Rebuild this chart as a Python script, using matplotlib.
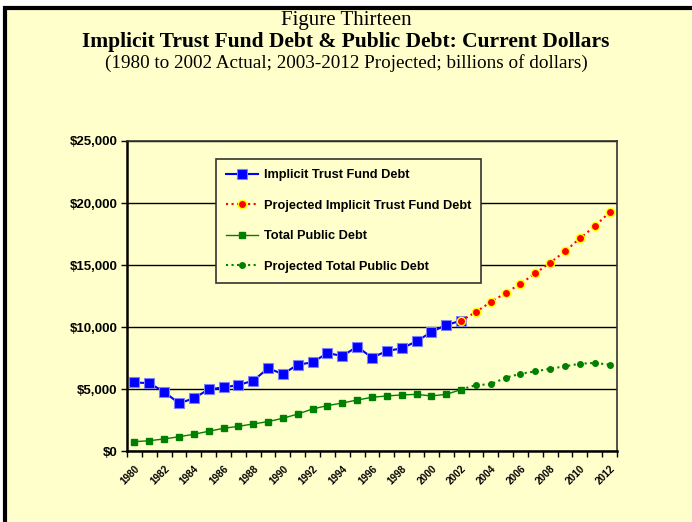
import numpy as np
import matplotlib
matplotlib.use("Agg")
import matplotlib.pyplot as plt
from matplotlib.patches import Rectangle
from matplotlib.ticker import FuncFormatter

# Years on the category axis
years = list(range(1980, 2013))

# Implicit trust fund debt, actual 1980-2002 (billions of dollars)
implicit_actual = [5540, 5460, 4780, 3840, 4250, 4970, 5130, 5320, 5670, 6670,
                   6210, 6960, 7150, 7900, 7660, 8410, 7530, 8060, 8280, 8840,
                   9600, 10160, 10510]
# Implicit trust fund debt, projected 2002-2012
implicit_proj = [10510, 11210, 12020, 12740, 13490, 14330, 15190, 16100,
                 17150, 18120, 19250]

# Total public debt, actual 1980-2002
public_actual = [750, 830, 970, 1150, 1350, 1590, 1830, 1990, 2180, 2370,
                 2640, 2980, 3390, 3660, 3870, 4110, 4330, 4440, 4520, 4570,
                 4440, 4570, 4950]
# Total public debt, projected 2002-2012
public_proj = [4950, 5320, 5380, 5910, 6230, 6420, 6640, 6830, 7040, 7100, 6960]

title_top = "Figure Thirteen"
title_main = "Implicit Trust Fund Debt & Public Debt: Current Dollars"
title_sub = "(1980 to 2002 Actual; 2003-2012 Projected; billions of dollars)"

BG = "#FFFFCC"
W, H = 692, 522

fig = plt.figure(figsize=(W / 100, H / 100), dpi=100, facecolor="white")

# Framed yellow panel behind everything
fig.patches.append(Rectangle((5 / W, -0.05), 1.1, (H - 8) / H + 0.05,
                             transform=fig.transFigure, facecolor=BG,
                             edgecolor="black", linewidth=3, zorder=-10))

fig.text(0.5, 1 - 20 / H, title_top, ha="center", va="center",
         family="Liberation Serif", fontsize=15)
fig.text(0.5, 1 - 42 / H, title_main, ha="center", va="center",
         family="Liberation Serif", fontsize=15.5, fontweight="bold")
fig.text(0.5, 1 - 63 / H, title_sub, ha="center", va="center",
         family="Liberation Serif", fontsize=13.8)

ax = fig.add_axes([127 / W, 71 / H, 490 / W, 310 / H])
ax.set_facecolor(BG)

x = np.arange(len(years))
n_act = len(implicit_actual)
x_act = x[:n_act]
x_proj = x[n_act - 1:]

ax.plot(x_act, implicit_actual, color="#0000FF", linewidth=1.5, marker="s",
        markersize=7.5, markerfacecolor="#0000FF", markeredgecolor="#8080FF",
        markeredgewidth=0.8, label="Implicit Trust Fund Debt", zorder=4)
ax.plot(x_proj, implicit_proj, color="#FF0000", linewidth=1.5, linestyle=":",
        marker="o", markersize=6, markerfacecolor="#FF0000",
        markeredgecolor="#FFFF00", markeredgewidth=1,
        label="Projected Implicit Trust Fund Debt", zorder=5)
ax.plot(x_act, public_actual, color="#008000", linewidth=1, marker="s",
        markersize=4, markerfacecolor="#008000", markeredgecolor="#008000",
        label="Total Public Debt", zorder=4)
ax.plot(x_proj, public_proj, color="#008000", linewidth=1.5, linestyle=":",
        marker="o", markersize=4, markerfacecolor="#008000",
        markeredgecolor="#008000", label="Projected Total Public Debt", zorder=4)

ax.set_xlim(-0.5, len(years) - 0.5)
ax.set_ylim(0, 25000)
ax.set_yticks(range(0, 25001, 5000))
ax.yaxis.set_major_formatter(FuncFormatter(lambda v, p: "${:,.0f}".format(v)))
ax.grid(axis="y", color="black", linewidth=1)
ax.set_axisbelow(True)

ax.set_xticks(x[::2])
ax.set_xticklabels([str(y) for y in years[::2]], rotation=45, ha="right",
                   va="top", rotation_mode="anchor")
ax.set_xticks(np.arange(-0.5, len(years), 1), minor=True)
ax.tick_params(axis="x", which="major", length=0, pad=9)
ax.tick_params(axis="x", which="minor", length=4, width=1, direction="out")
ax.tick_params(axis="y", length=4, width=1, direction="out", pad=3)

for lbl in ax.get_xticklabels():
    lbl.set_fontsize(7.2)
    lbl.set_fontweight("bold")
    lbl.set_family("Liberation Sans")
for lbl in ax.get_yticklabels():
    lbl.set_fontsize(9.5)
    lbl.set_fontweight("bold")
    lbl.set_family("Liberation Sans")

for side in ("left", "bottom"):
    ax.spines[side].set_linewidth(1.8)
for side in ("top", "right"):
    ax.spines[side].set_linewidth(1.2)
    ax.spines[side].set_color("#333333")

leg = ax.legend(loc="upper left", bbox_to_anchor=(0.1816, 0.942),
                frameon=True, fancybox=False, facecolor=BG, framealpha=1,
                edgecolor="#333333", handlelength=2.5, handletextpad=0.45,
                labelspacing=1.45, borderpad=0.8, borderaxespad=0,
                prop={"family": "Liberation Sans", "weight": "bold", "size": 9.2})
leg.get_frame().set_linewidth(1.2)

fig.savefig("out.png", dpi=100, facecolor=fig.get_facecolor())
